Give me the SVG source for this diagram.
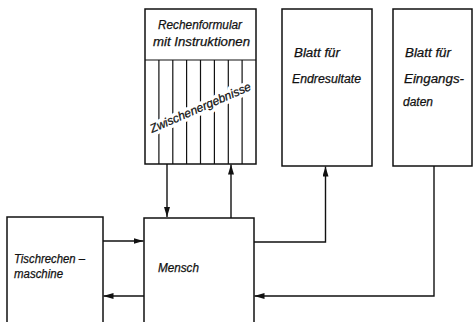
<svg xmlns="http://www.w3.org/2000/svg" width="476" height="322" viewBox="0 0 476 322">
<defs>
<marker id="ah" viewBox="0 0 10 6" refX="10" refY="3" markerWidth="10" markerHeight="6" markerUnits="userSpaceOnUse" orient="auto">
<path d="M0,0 L10,3 L0,6 Z" fill="#111"/>
</marker>
</defs>
<style>
.box{fill:#fff;stroke:#111;stroke-width:1.5}
.hatch{stroke:#111;stroke-width:1.2}
.conn{fill:none;stroke:#111;stroke-width:1.4}
text{font-family:"Liberation Sans","DejaVu Sans",sans-serif;font-style:italic;font-size:12px;fill:#111;stroke:#111;stroke-width:0.25}
text.halo{fill:#fff;stroke:#fff;stroke-width:7;stroke-linejoin:round}
</style>
<rect width="476" height="322" fill="#fff"/>
<g id="rechenformular">
<rect class="box" x="145" y="9" width="111" height="155"/>
<line class="hatch" x1="145" y1="60" x2="256" y2="60"/>
<g class="hatch">
<line x1="158.9" y1="60" x2="158.9" y2="164"/>
<line x1="172.8" y1="60" x2="172.8" y2="164"/>
<line x1="186.6" y1="60" x2="186.6" y2="164"/>
<line x1="200.5" y1="60" x2="200.5" y2="164"/>
<line x1="214.4" y1="60" x2="214.4" y2="164"/>
<line x1="228.3" y1="60" x2="228.3" y2="164"/>
<line x1="242.1" y1="60" x2="242.1" y2="164"/>
</g>
<text x="158" y="29" textLength="84" lengthAdjust="spacingAndGlyphs">Rechenformular</text>
<text x="153" y="46" textLength="97" lengthAdjust="spacingAndGlyphs">mit Instruktionen</text>
<g transform="translate(152,133) rotate(-23.5)">
<text class="halo" x="0" y="0" font-size="14" textLength="109" lengthAdjust="spacingAndGlyphs">Zwischenergebnisse</text>
<text x="0" y="0" font-size="14" textLength="109" lengthAdjust="spacingAndGlyphs">Zwischenergebnisse</text>
</g>
</g>
<g id="endresultate">
<rect class="box" x="282" y="9" width="90" height="157"/>
<text x="294" y="57" textLength="46" lengthAdjust="spacingAndGlyphs">Blatt für</text>
<text x="292" y="83" textLength="69" lengthAdjust="spacingAndGlyphs">Endresultate</text>
</g>
<g id="eingangsdaten">
<rect class="box" x="393" y="9" width="79" height="157"/>
<text x="405" y="57" textLength="46" lengthAdjust="spacingAndGlyphs">Blatt für</text>
<text x="404" y="83" textLength="60" lengthAdjust="spacingAndGlyphs">Eingangs-</text>
<text x="403" y="106" textLength="30" lengthAdjust="spacingAndGlyphs">daten</text>
</g>
<g id="tischrechenmaschine">
<rect class="box" x="7" y="217" width="96" height="120"/>
<text x="14" y="263" textLength="71" lengthAdjust="spacingAndGlyphs">Tischrechen –</text>
<text x="14" y="278" textLength="49" lengthAdjust="spacingAndGlyphs">maschine</text>
</g>
<g id="mensch">
<rect class="box" x="144" y="218" width="110" height="120"/>
<text x="158" y="272" textLength="41" lengthAdjust="spacingAndGlyphs">Mensch</text>
</g>
<g id="connectors">
<line class="conn" x1="167" y1="164" x2="167" y2="217" marker-end="url(#ah)"/>
<line class="conn" x1="231" y1="218" x2="231" y2="164.5" marker-end="url(#ah)"/>
<polyline class="conn" points="254,242 325.5,242 325.5,166.5" marker-end="url(#ah)"/>
<polyline class="conn" points="434,166 434,296 254.5,296" marker-end="url(#ah)"/>
<line class="conn" x1="103" y1="241" x2="143.5" y2="241" marker-end="url(#ah)"/>
<line class="conn" x1="144" y1="296" x2="103.5" y2="296" marker-end="url(#ah)"/>
</g>
</svg>
